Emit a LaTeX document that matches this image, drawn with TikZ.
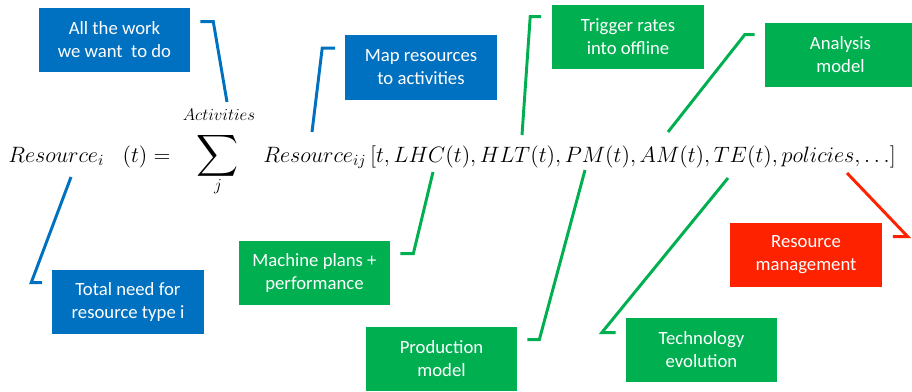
\documentclass[tikz,border=0pt]{standalone}
\usepackage{fix-cm}
\usepackage{amsmath}
\usepackage{fontspec}
\newfontfamily\boxfont{Carlito}
\usetikzlibrary{calc}
\definecolor{noteblue}{RGB}{0,112,192}
\definecolor{notegreen}{RGB}{0,176,80}
\definecolor{notered}{RGB}{255,34,0}
\tikzset{
  note/.style={fill=#1,text=white,inner sep=0pt,align=center,
    minimum width=3.775cm,minimum height=1.6cm,
    font=\boxfont\fontsize{13.3}{16.3}\selectfont},
  lead/.style={draw=#1,line width=2.1pt,line join=miter},
  eq/.style={inner sep=0pt,font=\fontsize{#1}{#1}\selectfont},
  eq/.default=15.8
}
\begin{document}
\begin{tikzpicture}[x=0.025cm,y=-0.025cm]
\useasboundingbox (0,0) rectangle (912,391);
% the equation
\node (lhs) [eq,anchor=base west] at (8,162) {$Resource_{i}\;\;\;(t) =$};
\node (sum) [eq=22] at (218,156) {$\displaystyle\sum$};
\node (upper) [eq=12] at (219,115) {$Activities$};
\node (lower) [eq=12] at (218,187) {$j$};
\node (rhs) [eq,anchor=base west] at (263,162)
  {$Resource_{ij}\,[t, LHC(t), HLT(t), PM(t), AM(t), TE(t), policies, \ldots]$};
% the notes
\node (work) [note=noteblue] at (114.5,40) {All the work\\we want\ \ to do};
\node (map) [note=noteblue] at (421,67.5) {Map resources\\to activities};
\node (total) [note=noteblue] at (128,302) {Total need for\\resource type i};
\node (trigger) [note=notegreen] at (628,37) {Trigger rates\\into offline};
\node (analysis) [note=notegreen] at (840.5,55) {Analysis\\model};
\node (machine) [note=notegreen] at (314.5,273) {Machine plans +\\performance};
\node (production) [note=notegreen] at (441.5,359) {Production\\model};
\node (technology) [note=notegreen] at (701.5,350) {Technology\\evolution};
\node (management) [note=notered] at (806,255) {Resource\\management};
% where the leads point to
\coordinate (work tip) at (227,102);
\coordinate (map tip) at (312,132);
\coordinate (total tip) at (71,177);
\coordinate (trigger tip) at (522,135);
\coordinate (analysis tip) at (668,132);
\coordinate (machine tip) at (433,172);
\coordinate (production tip) at (585,170);
\coordinate (technology tip) at (728,178);
\coordinate (management tip) at (847,173);
% the leads
\draw[lead=noteblue] ($(work.north east)+(10,14)$) -- ++(13,0) -- (work tip);
\draw[lead=noteblue] ($(map.north west)+(-10,13)$) -- ++(-13,0) -- (map tip);
\draw[lead=noteblue] ($(total.north west)+(-10,13)$) -- ++(-11,0) -- (total tip);
\draw[lead=notegreen] ($(trigger.north west)+(-11,12)$) -- ++(-11,0) -- (trigger tip);
\draw[lead=notegreen] ($(analysis.north west)+(-10,12)$) -- ++(-10,0) -- (analysis tip);
\draw[lead=notegreen] ($(machine.north east)+(10,13)$) -- ++(13,0) -- (machine tip);
\draw[lead=notegreen] ($(production.north east)+(10,13)$) -- ++(12,0) -- (production tip);
\draw[lead=notegreen] ($(technology.north west)+(-10,15)$) -- ++(-14,0) -- (technology tip);
\draw[lead=notered] ($(management.north east)+(11,14)$) -- ++(15,0) -- (management tip);
\end{tikzpicture}
\end{document}
